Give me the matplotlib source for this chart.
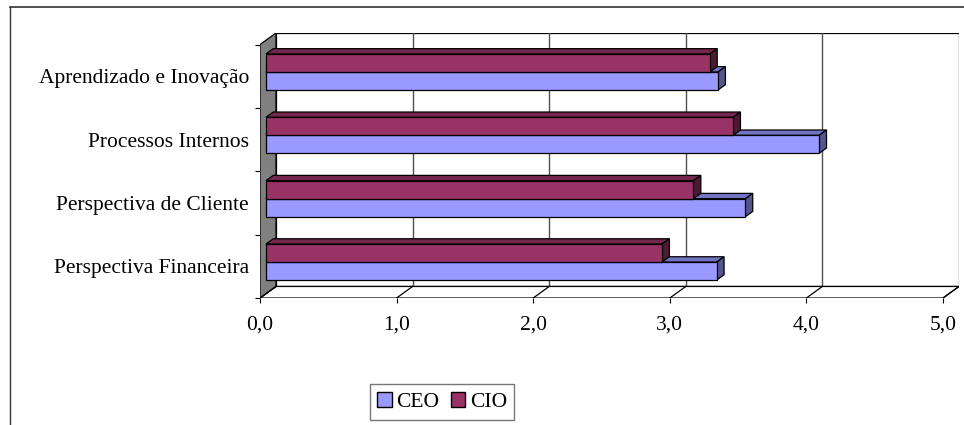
import matplotlib
matplotlib.use("Agg")
import matplotlib.pyplot as plt
from matplotlib.patches import Polygon, Patch
from matplotlib.lines import Line2D
import numpy as np

# ---- data ----
categories = ["Perspectiva Financeira", "Perspectiva de Cliente",
              "Processos Internos", "Aprendizado e Inovação"]
ceo = [3.30, 3.51, 4.05, 3.31]
cio = [2.90, 3.13, 3.42, 3.25]
x_ticks = [0, 1, 2, 3, 4, 5]
x_labels = ["0,0", "1,0", "2,0", "3,0", "4,0", "5,0"]
series_names = ["CEO", "CIO"]

# ---- style ----
FONT = "Liberation Serif"
FS = 15.5
ceo_front, ceo_top, ceo_side = "#9999FF", "#7373C4", "#55558C"
cio_front, cio_top, cio_side = "#993366", "#74264D", "#4C1A33"
wall_gray = "#808080"

# oblique depth offsets (in data units) for the 3-D look
XMAX = 5.0
NCAT = len(categories)
DX = 0.117   # value units per full depth
DY = 0.182   # category units per full depth
Z0, Z1 = 0.37, 0.83   # front / back depth of bars
BAR_H = 0.284

fig = plt.figure(figsize=(9.64, 4.25), dpi=100)
W, H = 964, 425
ax = fig.add_axes([260 / W, 1 - 298 / H, 699 / W, 265 / H])
ax.set_xlim(0, XMAX + DX)
ax.set_ylim(0, NCAT + DY)
for s in ax.spines.values():
    s.set_visible(False)
ax.set_facecolor("none")

edge = "black"
lw = 0.9

# back wall
ax.add_patch(Polygon([(DX, DY), (XMAX + DX, DY), (XMAX + DX, NCAT + DY), (DX, NCAT + DY)],
                     closed=True, facecolor="white", edgecolor=edge, lw=lw, zorder=1))
for t in x_ticks[1:-1]:
    ax.plot([t + DX, t + DX], [DY, NCAT + DY], color="#505050", lw=1.0, zorder=1.5)

# floor
ax.add_patch(Polygon([(0, 0), (XMAX, 0), (XMAX + DX, DY), (DX, DY)],
                     closed=True, facecolor="white", edgecolor=edge, lw=lw, zorder=2))
for t in x_ticks:
    ax.plot([t, t + DX], [0, DY], color=edge, lw=lw, zorder=2.5)

# left wall
ax.add_patch(Polygon([(0, 0), (DX, DY), (DX, NCAT + DY), (0, NCAT)],
                     closed=True, facecolor=wall_gray, edgecolor=edge, lw=lw, zorder=2))


def box_faces(y0, v, h, top_c, side_c):
    """Top and end faces of a horizontal 3-D bar whose front face is at depth Z0."""
    xa, ya = Z0 * DX, y0 + Z0 * DY
    ddx, ddy = (Z1 - Z0) * DX, (Z1 - Z0) * DY
    top = [(xa, ya + h), (xa + v, ya + h), (xa + v + ddx, ya + h + ddy), (xa + ddx, ya + h + ddy)]
    side = [(xa + v, ya), (xa + v + ddx, ya + ddy), (xa + v + ddx, ya + h + ddy), (xa + v, ya + h)]
    ax.add_patch(Polygon(top, closed=True, facecolor=top_c, edgecolor=edge, lw=lw, zorder=4))
    ax.add_patch(Polygon(side, closed=True, facecolor=side_c, edgecolor=edge, lw=lw, zorder=4))


centers = np.arange(NCAT) + 0.5
y_ceo = centers - BAR_H + Z0 * DY
y_cio = centers + Z0 * DY

for i in range(NCAT):
    box_faces(centers[i] - BAR_H, ceo[i], BAR_H, ceo_top, ceo_side)
ax.barh(y_ceo, ceo, height=BAR_H, left=Z0 * DX, align="edge",
        color=ceo_front, edgecolor=edge, lw=lw, zorder=4.5)
for i in range(NCAT):
    box_faces(centers[i], cio[i], BAR_H, cio_top, cio_side)
ax.barh(y_cio, cio, height=BAR_H, left=Z0 * DX, align="edge",
        color=cio_front, edgecolor=edge, lw=lw, zorder=5)

# ticks and labels
ax.set_xticks(x_ticks)
ax.set_xticklabels(x_labels, fontfamily=FONT, fontsize=FS)
ax.tick_params(axis="x", direction="out", length=3.6, width=0.8, pad=9, color=edge)

ax.set_yticks(centers)
ax.set_yticklabels(categories, fontfamily=FONT, fontsize=FS)
ax.set_yticks(np.arange(NCAT + 1), minor=True)
ax.tick_params(axis="y", which="major", length=0, pad=8)
ax.tick_params(axis="y", which="minor", direction="out", length=3.6, width=0.8, color=edge)
ax.tick_params(axis="x", which="minor", length=0)

# outer chart frame
fig.add_artist(Line2D([10 / W, 1.0], [1 - 7 / H, 1 - 7 / H], color="#333333", lw=1.2))
fig.add_artist(Line2D([10 / W, 10 / W], [0, 1 - 7 / H], color="#333333", lw=1.0))

# legend
handles = [Patch(facecolor=ceo_front, edgecolor=edge, lw=1.0),
           Patch(facecolor=cio_front, edgecolor=edge, lw=1.0)]
leg = fig.legend(handles, series_names, loc="center", bbox_to_anchor=(442 / W, 1 - 402 / H),
                 ncol=2, frameon=True, fancybox=False, handlelength=0.68, handleheight=0.68,
                 handletextpad=0.2, columnspacing=0.55, borderpad=0.35,
                 prop={"family": FONT, "size": FS})
leg.get_frame().set_edgecolor("#555555")
leg.get_frame().set_linewidth(1.0)

fig.savefig("out.png", dpi=100)
